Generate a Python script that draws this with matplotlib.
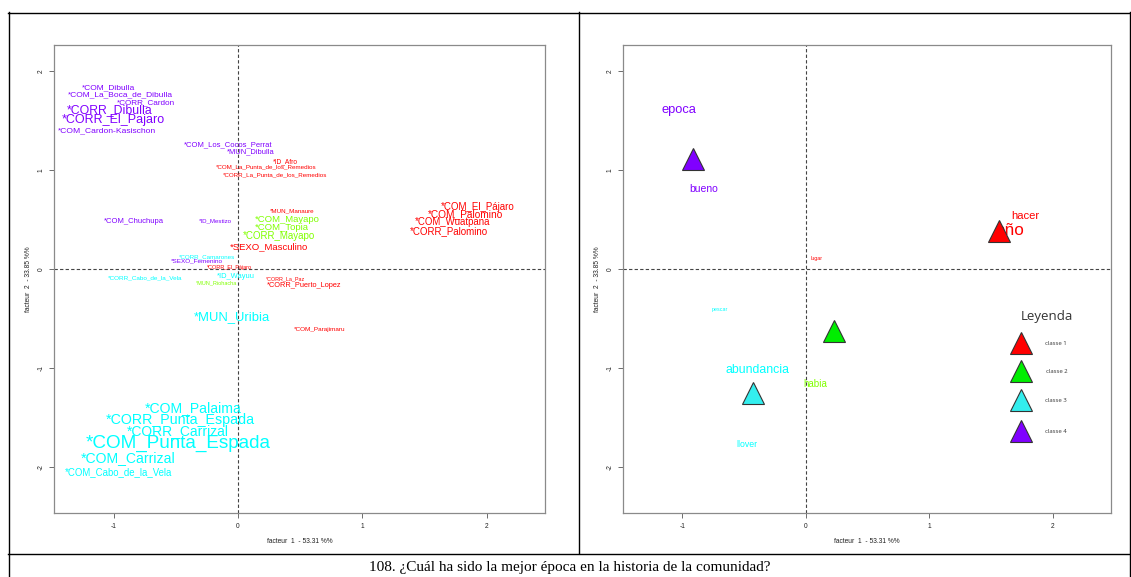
import matplotlib
matplotlib.use("Agg")
import matplotlib.pyplot as plt
from matplotlib.lines import Line2D

# Colours of the four classes (classe 1..4)
class_colors = ["#FF0000", "#80FF00", "#00FFFF", "#8000FF"]
marker_colors = ["#FF0000", "#00EE00", "#33EEEE", "#8000FF"]

# ---- Left map: modalities of the illustrative variables ----
left_labels = [
    "*COM_Dibulla", "*COM_La_Boca_de_Dibulla", "*CORR_Cardon", "*CORR_Dibulla",
    "*CORR_El_Pajaro", "*COM_Cardon-Kasischon", "*COM_Los_Cocos_Perrat",
    "*MUN_Dibulla", "*COM_Chuchupa", "*ID_Mestizo", "*SEXO_Femenino",
    "*ID_Afro", "*COM_La_Punta_de_los_Remedios", "*CORR_La_Punta_de_los_Remedios",
    "*MUN_Manaure", "*SEXO_Masculino", "*CORR_El_Pájaro", "*CORR_La_Paz",
    "*CORR_Puerto_Lopez", "*COM_Parajimaru", "*COM_El_Pájaro", "*COM_Palomino",
    "*COM_Wuatpana", "*CORR_Palomino",
    "*COM_Mayapo", "*COM_Topia", "*CORR_Mayapo", "*MUN_Riohacha",
    "*CORR_Camarones", "*CORR_Cabo_de_la_Vela", "*ID_Wayuu", "*MUN_Uribia",
    "*COM_Palaima", "*CORR_Punta_Espada", "*CORR_Carrizal", "*COM_Punta_Espada",
    "*COM_Carrizal", "*COM_Cabo_de_la_Vela",
]
left_f1 = [
    -1.04, -0.95, -0.74, -1.03, -1.00, -1.05, -0.08, 0.10, -0.84, -0.18, -0.33,
    0.38, 0.23, 0.30, 0.44, 0.25, -0.07, 0.38, 0.53, 0.66, 1.93, 1.83, 1.73, 1.70,
    0.40, 0.35, 0.33, -0.17,
    -0.25, -0.75, -0.02, -0.05, -0.36, -0.46, -0.48, -0.48, -0.88, -0.96,
]
left_f2 = [
    1.83, 1.76, 1.68, 1.60, 1.50, 1.40, 1.25, 1.18, 0.48, 0.49, 0.08,
    1.08, 1.03, 0.95, 0.59, 0.23, 0.02, -0.10, -0.17, -0.61, 0.63, 0.55, 0.47, 0.38,
    0.50, 0.42, 0.33, -0.14,
    0.12, -0.09, -0.07, -0.48, -1.40, -1.52, -1.63, -1.76, -1.91, -2.05,
]
left_class = [4] * 11 + [1] * 13 + [2] * 4 + [3] * 10
left_fontsize = [
    6.0, 6.0, 5.9, 8.8, 9.0, 6.1, 5.5, 5.4, 5.5, 4.4, 4.6,
    4.8, 4.5, 4.5, 4.5, 6.8, 4.0, 3.9, 5.3, 4.6, 7.0, 7.3, 6.9, 7.0,
    6.8, 6.8, 7.0, 4.0,
    4.5, 4.6, 5.4, 9.4, 10.1, 10.3, 10.0, 13.6, 10.1, 6.9,
]

# ---- Right map: class centres and words ----
class_f1 = [1.56, 0.23, -0.43, -0.91]
class_f2 = [0.38, -0.62, -1.25, 1.11]

right_words = ["epoca", "bueno", "hacer", "año", "lugar", "pescar",
               "abundancia", "habia", "llover"]
right_f1 = [-1.03, -0.83, 1.78, 1.65, 0.09, -0.70, -0.39, 0.08, -0.48]
right_f2 = [1.60, 0.81, 0.54, 0.39, 0.11, -0.41, -1.02, -1.16, -1.77]
right_class = [4, 4, 1, 1, 1, 3, 3, 2, 3]
right_fontsize = [9.3, 7.5, 8.1, 12.3, 3.8, 3.9, 8.8, 7.1, 6.3]

legend_title = "Leyenda"
legend_labels = ["classe 1", "classe 2", "classe 3", "classe 4"]

x_label = "facteur  1  - 53.31 %%"
y_label = "facteur  2  - 33.85 %%"
ticks = [-2, -1, 0, 1, 2]
caption = "108. ¿Cuál ha sido la mejor época en la historia de la comunidad?"

plt.rcParams["font.family"] = ["Liberation Sans", "DejaVu Sans"]
plt.rcParams["axes.unicode_minus"] = False

W, H = 1131, 577
fig = plt.figure(figsize=(W / 100, H / 100), dpi=100)
fig.patch.set_facecolor("white")


def setup_axes(rect):
    ax = fig.add_axes(rect)
    ax.set_xlim(-1.48, 2.47)
    ax.set_ylim(-2.46, 2.26)
    for s in ax.spines.values():
        s.set_color("#8a8a8a")
        s.set_linewidth(0.9)
    ax.set_xticks([t for t in ticks if t >= -1])
    ax.set_yticks(ticks)
    ax.tick_params(axis="both", length=3.5, width=0.6, color="#555555",
                   labelsize=4.8, labelcolor="#222222")
    ax.tick_params(axis="x", pad=3.5)
    ax.tick_params(axis="y", pad=3.0)
    for lab in ax.get_yticklabels():
        lab.set_rotation(90)
        lab.set_va("center")
    ax.axvline(0, color="#444444", lw=0.8, ls=(0, (3, 2)), zorder=1)
    ax.axhline(0, color="#444444", lw=0.8, ls=(0, (3, 2)), zorder=1)
    ax.set_xlabel(x_label, fontsize=4.8, color="#222222", labelpad=6)
    ax.set_ylabel(y_label, fontsize=4.8, color="#222222", labelpad=4)
    return ax


ax_l = setup_axes([54 / W, 1 - 513 / H, (545 - 54) / W, (513 - 45) / H])
for lab, x, y, c, fs in zip(left_labels, left_f1, left_f2, left_class, left_fontsize):
    ax_l.text(x, y, lab, color=class_colors[c - 1], fontsize=fs,
              ha="center", va="center", zorder=3)

ax_r = setup_axes([623 / W, 1 - 513 / H, (1111 - 623) / W, (513 - 45) / H])
for w, x, y, c, fs in zip(right_words, right_f1, right_f2, right_class, right_fontsize):
    ax_r.text(x, y, w, color=class_colors[c - 1], fontsize=fs,
              ha="center", va="center", zorder=3)
for i, (x, y) in enumerate(zip(class_f1, class_f2)):
    ax_r.plot(x, y, marker="^", ms=16, mfc=marker_colors[i], mec="#333333",
              mew=0.8, ls="none", zorder=5)

# Legend block drawn inside the right map
ax_r.text(0.869, 0.419, legend_title, transform=ax_r.transAxes, fontsize=9.5,
          family=["Open Sans", "DejaVu Sans"], color="#333333",
          ha="center", va="center")
leg_y = [0.363, 0.303, 0.241, 0.175]
for i, (lbl, yy) in enumerate(zip(legend_labels, leg_y)):
    ax_r.plot(0.816, yy, marker="^", ms=16, mfc=marker_colors[i], mec="#333333",
              mew=0.8, ls="none", transform=ax_r.transAxes, clip_on=False)
    ax_r.text(0.888, yy, lbl, transform=ax_r.transAxes, fontsize=4.3,
              family=["Open Sans", "DejaVu Sans"], color="#333333",
              ha="center", va="center")

# Table frame around the two maps and the caption row
def hline(y, x0, x1):
    fig.add_artist(Line2D([x0 / W, x1 / W], [1 - y / H, 1 - y / H],
                          color="black", lw=1.0))


def vline(x, y0, y1):
    fig.add_artist(Line2D([x / W, x / W], [1 - y0 / H, 1 - y1 / H],
                          color="black", lw=1.0))


hline(12.5, 8, 1130)
hline(553.5, 8, 1130)
vline(8.5, 12, 577)
vline(578.5, 12, 553)
vline(1129.5, 12, 577)

fig.text(570 / W, 1 - 568 / H, caption, fontsize=11,
         family=["Liberation Serif", "DejaVu Serif"], color="black",
         ha="center", va="center")

fig.savefig("out.png", dpi=100, facecolor="white")
